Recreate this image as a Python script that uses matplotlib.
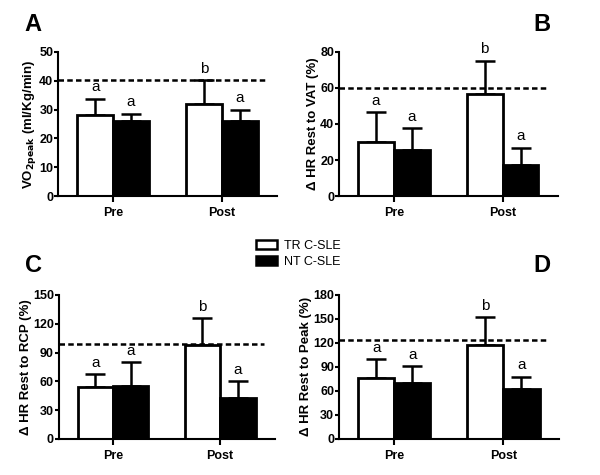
import numpy as np
import matplotlib
matplotlib.use("Agg")
import matplotlib.pyplot as plt
from matplotlib.patches import Patch

plt.rcParams['font.family'] = ['Liberation Sans', 'DejaVu Sans']

groups = ['Pre', 'Post']
series = ['TR C-SLE', 'NT C-SLE']

# panel A: VO2peak
vo2_tr = [28.0, 31.9]
vo2_tr_err = [5.8, 8.2]
vo2_nt = [25.9, 25.9]
vo2_nt_err = [2.7, 4.1]
vo2_ref = 40.1

# panel B: HR rest to VAT
vat_tr = [30.0, 56.5]
vat_tr_err = [16.5, 18.5]
vat_nt = [25.6, 17.4]
vat_nt_err = [12.0, 9.5]
vat_ref = 60.2

# panel C: HR rest to RCP
rcp_tr = [54.0, 97.7]
rcp_tr_err = [13.5, 28.0]
rcp_nt = [55.4, 43.0]
rcp_nt_err = [24.3, 17.0]
rcp_ref = 98.4

# panel D: HR rest to peak
peak_tr = [75.6, 117.2]
peak_tr_err = [24.4, 34.8]
peak_nt = [69.4, 62.0]
peak_nt_err = [22.0, 16.0]
peak_ref = 124.0

sig_tr = ['a', 'b']
sig_nt = ['a', 'a']

fig = plt.figure(figsize=(6, 4.75), dpi=100)


def panel(rect, tr, tr_err, nt, nt_err, ref, ymax, step, ylabel, letter, letter_pos):
    ax = fig.add_axes(rect)
    x = np.arange(len(groups))
    w = 0.33
    ax.bar(x - w / 2, tr, w, color='white', edgecolor='black', linewidth=2, zorder=2)
    ax.bar(x + w / 2, nt, w, color='black', edgecolor='black', linewidth=2, zorder=2)
    ax.errorbar(x - w / 2, tr, yerr=[np.zeros(2), tr_err], fmt='none', ecolor='black',
                elinewidth=1.8, capsize=7, capthick=1.8, zorder=1)
    ax.errorbar(x + w / 2, nt, yerr=[np.zeros(2), nt_err], fmt='none', ecolor='black',
                elinewidth=1.8, capsize=7, capthick=1.8, zorder=1)
    ax.plot([-0.505, 1.41], [ref, ref], color='black', linestyle=(0, (2.2, 1.3)),
            linewidth=1.8, zorder=3)
    off = ymax * 0.03
    for i in range(2):
        ax.text(x[i] - w / 2, tr[i] + tr_err[i] + off, sig_tr[i], ha='center', va='bottom', fontsize=11)
        ax.text(x[i] + w / 2, nt[i] + nt_err[i] + off, sig_nt[i], ha='center', va='bottom', fontsize=11)
    ax.set_xlim(-0.505, 1.51)
    ax.set_ylim(0, ymax)
    ax.set_yticks(np.arange(0, ymax + 1, step))
    ax.set_xticks(x)
    ax.set_xticklabels(groups, fontweight='bold', fontsize=9)
    for lab in ax.get_yticklabels():
        lab.set_fontweight('bold')
        lab.set_fontsize(9)
    ax.spines['top'].set_visible(False)
    ax.spines['right'].set_visible(False)
    ax.spines['left'].set_linewidth(1.5)
    ax.spines['bottom'].set_linewidth(1.5)
    ax.tick_params(axis='y', length=3, width=1.5, pad=0.5)
    ax.tick_params(axis='x', length=4, width=1.5, pad=4)
    ax.set_ylabel(ylabel, fontweight='bold', fontsize=9.5, labelpad=1)
    fig.text(letter_pos[0], letter_pos[1], letter, fontsize=17, fontweight='bold',
             ha='center', va='center')
    return ax


panel([0.097, 0.587, 0.365, 0.304], vo2_tr, vo2_tr_err, vo2_nt, vo2_nt_err, vo2_ref,
      50, 10, r'VO$_{\mathbf{2peak}}$ (ml/Kg/min)', 'A', (0.055, 0.948))
panel([0.565, 0.587, 0.365, 0.304], vat_tr, vat_tr_err, vat_nt, vat_nt_err, vat_ref,
      80, 20, '\u0394 HR Rest to VAT (%)', 'B', (0.903, 0.948))
panel([0.098, 0.076, 0.360, 0.303], rcp_tr, rcp_tr_err, rcp_nt, rcp_nt_err, rcp_ref,
      150, 30, '\u0394 HR Rest to RCP (%)', 'C', (0.055, 0.44))
panel([0.565, 0.076, 0.367, 0.303], peak_tr, peak_tr_err, peak_nt, peak_nt_err, peak_ref,
      180, 30, '\u0394 HR Rest to Peak (%)', 'D', (0.903, 0.44))

handles = [Patch(facecolor='white', edgecolor='black', linewidth=1.8),
           Patch(facecolor='black', edgecolor='black', linewidth=1.8)]
fig.legend(handles, series, loc='center', bbox_to_anchor=(0.497, 0.466), frameon=False,
           fontsize=9, handlelength=1.7, handleheight=0.8, handletextpad=0.6,
           labelspacing=0.3)

fig.savefig('out.png', dpi=100)
